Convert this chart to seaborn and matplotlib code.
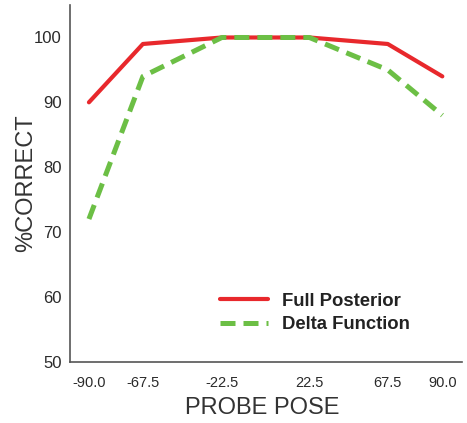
import numpy as np
import pandas as pd
import matplotlib
matplotlib.use("Agg")
import matplotlib.pyplot as plt
import seaborn as sns

# probe poses and where they sit on the (non-linear) x axis
poses = ["-90.0", "-67.5", "-22.5", "0", "22.5", "67.5", "90.0"]
pose_pos = [0, 1, 2.463, 3.296, 4.085, 5.537, 6.548]

full_posterior = [90, 99, 100, 100, 100, 99, 94]
delta_function = [72, 94, 100, 100, 100, 95, 88]

df = pd.DataFrame({
    "pos": pose_pos * 2,
    "correct": full_posterior + delta_function,
    "model": ["Full Posterior"] * len(poses) + ["Delta Function"] * len(poses),
})

sns.set_style("white")
plt.rcParams["font.family"] = ["Liberation Sans", "DejaVu Sans"]

fig = plt.figure(figsize=(4.67, 4.23), dpi=100)
ax = fig.add_axes([0.150, 0.145, 0.839, 0.843])

sns.lineplot(data=df[df.model == "Full Posterior"], x="pos", y="correct",
             color="#e8282c", linewidth=3.0, label="Full Posterior", ax=ax)
sns.lineplot(data=df[df.model == "Delta Function"], x="pos", y="correct",
             color="#6cbf45", linewidth=3.6, linestyle=(0, (3, 1.6)),
             label="Delta Function", ax=ax)

ax.set_xlim(-0.35, 6.91)
ax.set_ylim(50, 105)
ax.set_xticks(pose_pos)
ax.set_xticklabels(["" if p == "0" else p for p in poses])
ax.set_yticks([50, 60, 70, 80, 90, 100])

ax.tick_params(direction="in", length=3, width=1, colors="#444444",
               labelcolor="#2a2a2a")
ax.tick_params(axis="x", pad=10, labelsize=10.5)
ax.tick_params(axis="y", pad=6, labelsize=12)

for s in ["top", "right"]:
    ax.spines[s].set_visible(False)
for s in ["left", "bottom"]:
    ax.spines[s].set_color("#555555")
    ax.spines[s].set_linewidth(1.2)

ax.set_xlabel("PROBE POSE", fontsize=17, color="#333333")
ax.set_ylabel("%CORRECT", fontsize=17, color="#333333")
ax.xaxis.set_label_coords(0.49, -0.10)
ax.yaxis.set_label_coords(-0.085, 0.5)

leg = ax.legend(loc="upper left", bbox_to_anchor=(0.34, 0.24), frameon=False,
                handlelength=2.6, handletextpad=0.75, labelspacing=0.35,
                prop={"weight": "bold", "size": 13.3})
for t in leg.get_texts():
    t.set_color("#222222")

fig.savefig("out.png", dpi=100)
